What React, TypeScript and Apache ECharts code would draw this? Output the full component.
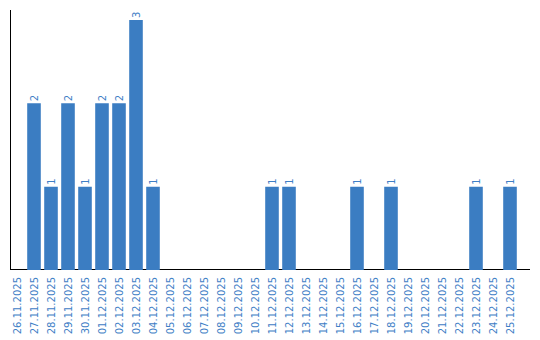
import React, { useEffect, useRef } from "react";
import * as echarts from "echarts";

const categories = [
  "26.11.2025", "27.11.2025", "28.11.2025", "29.11.2025", "30.11.2025",
  "01.12.2025", "02.12.2025", "03.12.2025", "04.12.2025", "05.12.2025",
  "06.12.2025", "07.12.2025", "08.12.2025", "09.12.2025", "10.12.2025",
  "11.12.2025", "12.12.2025", "13.12.2025", "14.12.2025", "15.12.2025",
  "16.12.2025", "17.12.2025", "18.12.2025", "19.12.2025", "20.12.2025",
  "21.12.2025", "22.12.2025", "23.12.2025", "24.12.2025", "25.12.2025",
];
const values = [
  0, 2, 1, 2, 1,
  2, 2, 3, 1, 0,
  0, 0, 0, 0, 0,
  1, 1, 0, 0, 0,
  1, 0, 1, 0, 0,
  0, 0, 1, 0, 1,
];

export default function App() {
  const ref = useRef<HTMLDivElement>(null);
  useEffect(() => {
    if (!ref.current) return;
    const chart = echarts.init(ref.current, null, { renderer: "svg" });
    chart.setOption({
      animation: false,
      textStyle: { fontFamily: "DejaVu Sans" },
      grid: { left: 8.5, top: 20, width: 510, bottom: 70, containLabel: false },
      xAxis: {
        type: "category",
        data: categories,
        axisLine: { show: false },
        axisTick: { show: false },
        axisLabel: {
          rotate: 90,
          interval: 0,
          margin: 7,
          fontSize: 10,
          color: "#3f80c6",
          fontFamily: "DejaVu Sans",
        },
      },
      yAxis: {
        type: "value",
        min: 0,
        max: 3,
        axisLine: { show: false },
        axisTick: { show: false },
        axisLabel: { show: false },
        splitLine: { show: false },
      },
      graphic: [
        { type: "line", shape: { x1: 10.5, y1: 10, x2: 10.5, y2: 270 }, style: { stroke: "#000", lineWidth: 1 } },
        { type: "line", shape: { x1: 10, y1: 269.5, x2: 530, y2: 269.5 }, style: { stroke: "#000", lineWidth: 1 } },
      ],
      series: [
        {
          type: "bar",
          data: values.map((v) => (v === 0 ? null : v)),
          barCategoryGap: "20%",
          itemStyle: { color: "#3b7dc2" },
          label: {
            show: true,
            position: "top",
            rotate: 90,
            align: "left",
            verticalAlign: "middle",
            distance: 2,
            fontSize: 10,
            color: "#3f80c6",
            fontFamily: "DejaVu Sans",
          },
        },
      ],
    });
    return () => chart.dispose();
  }, []);
  return <div ref={ref} style={{ width: 540, height: 340, position: "absolute", left: 0, top: 0 }} />;
}
